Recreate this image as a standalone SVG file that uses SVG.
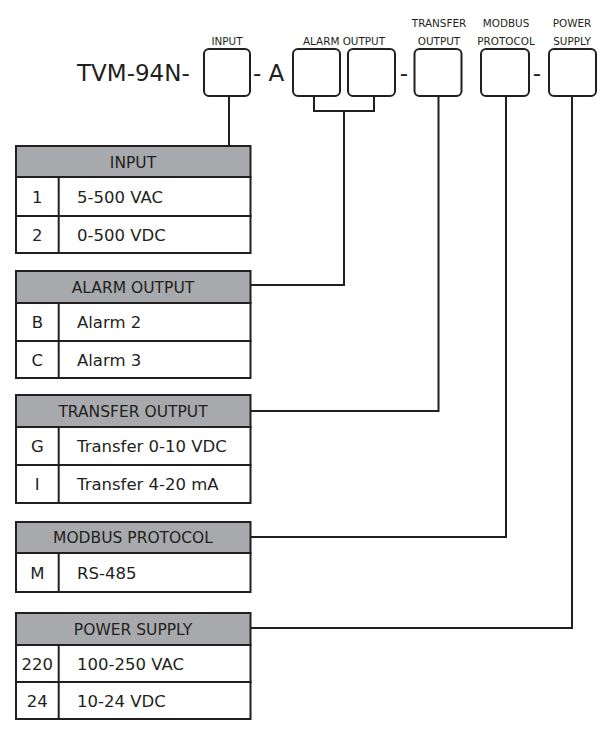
<svg xmlns="http://www.w3.org/2000/svg" width="605" height="731" viewBox="0 0 605 731">
<style>
text{font-family:"DejaVu Sans","Liberation Sans",sans-serif;fill:#231f20}
.title{font-size:23px}
.lbl{font-size:10.4px;text-anchor:middle}
.hd{font-size:15.5px;text-anchor:middle}
.cell{font-size:16.5px}
.code{font-size:16.5px;text-anchor:middle}
.box{fill:#fff;stroke:#231f20;stroke-width:2}
.head{fill:#a7a9ac;stroke:#231f20;stroke-width:2}
.row{fill:#fff;stroke:#231f20;stroke-width:2}
.ln{fill:none;stroke:#231f20;stroke-width:2}
</style>
<rect width="605" height="731" fill="#fff"/>
<g id="model">
<text class="title" x="77" y="81">TVM-94N-</text>
<text class="title" x="253" y="81">- A</text>
<text class="title" x="404" y="81" text-anchor="middle">-</text>
<text class="title" x="537" y="81" text-anchor="middle">-</text>
</g>
<g id="slot-input">
<rect class="box" x="204" y="49" width="46" height="47" rx="5"/>
<text class="lbl" x="227" y="45">INPUT</text>
</g>
<g id="slot-alarm">
<rect class="box" x="293" y="49" width="47" height="47" rx="5"/>
<rect class="box" x="348" y="49" width="47" height="47" rx="5"/>
<text class="lbl" x="344" y="45">ALARM OUTPUT</text>
</g>
<g id="slot-transfer">
<rect class="box" x="414.5" y="49" width="47" height="47" rx="5"/>
<text class="lbl" x="439" y="26.5">TRANSFER</text>
<text class="lbl" x="439" y="45">OUTPUT</text>
</g>
<g id="slot-modbus">
<rect class="box" x="481" y="49" width="48" height="47" rx="5"/>
<text class="lbl" x="506" y="26.5">MODBUS</text>
<text class="lbl" x="506" y="45">PROTOCOL</text>
</g>
<g id="slot-power">
<rect class="box" x="549" y="49" width="47" height="47" rx="5"/>
<text class="lbl" x="572" y="26.5">POWER</text>
<text class="lbl" x="572" y="45">SUPPLY</text>
</g>
<g id="connectors">
<path class="ln" d="M229 96V146"/>
<path class="ln" d="M314 96V111H374V96M344 111V285H250"/>
<path class="ln" d="M438.5 96V411H250"/>
<path class="ln" d="M506 96V537H250"/>
<path class="ln" d="M572 96V628H250"/>
</g>
<g id="table-input">
<rect class="head" x="16" y="146" width="234.5" height="31"/>
<rect class="row" x="16" y="177" width="234.5" height="39"/>
<rect class="row" x="16" y="216" width="234.5" height="37"/>
<path class="ln" d="M58.7 177V253"/>
<text class="hd" x="133" y="167.5">INPUT</text>
<text class="code" x="37.3" y="202.5">1</text>
<text class="cell" x="77" y="202.5">5-500 VAC</text>
<text class="code" x="37.3" y="240.5">2</text>
<text class="cell" x="77" y="240.5">0-500 VDC</text>
</g>
<g id="table-alarm">
<rect class="head" x="16" y="271" width="234.5" height="32"/>
<rect class="row" x="16" y="303" width="234.5" height="38"/>
<rect class="row" x="16" y="341" width="234.5" height="37"/>
<path class="ln" d="M58.7 303V378"/>
<text class="hd" x="133" y="292.5">ALARM OUTPUT</text>
<text class="code" x="37.3" y="328">B</text>
<text class="cell" x="77" y="328">Alarm 2</text>
<text class="code" x="37.3" y="365.5">C</text>
<text class="cell" x="77" y="365.5">Alarm 3</text>
</g>
<g id="table-transfer">
<rect class="head" x="16" y="395" width="234.5" height="32"/>
<rect class="row" x="16" y="427" width="234.5" height="38"/>
<rect class="row" x="16" y="465" width="234.5" height="38"/>
<path class="ln" d="M58.7 427V503"/>
<text class="hd" x="133" y="416.5">TRANSFER OUTPUT</text>
<text class="code" x="37.3" y="452">G</text>
<text class="cell" x="77" y="452">Transfer 0-10 VDC</text>
<text class="code" x="37.3" y="490">I</text>
<text class="cell" x="77" y="490">Transfer 4-20 mA</text>
</g>
<g id="table-modbus">
<rect class="head" x="16" y="522" width="234.5" height="31"/>
<rect class="row" x="16" y="553" width="234.5" height="39"/>
<path class="ln" d="M58.7 553V592"/>
<text class="hd" x="133" y="543">MODBUS PROTOCOL</text>
<text class="code" x="37.3" y="578.5">M</text>
<text class="cell" x="77" y="578.5">RS-485</text>
</g>
<g id="table-power">
<rect class="head" x="16" y="613" width="234.5" height="32"/>
<rect class="row" x="16" y="645" width="234.5" height="37"/>
<rect class="row" x="16" y="682" width="234.5" height="37"/>
<path class="ln" d="M58.7 645V719"/>
<text class="hd" x="133" y="634.5">POWER SUPPLY</text>
<text class="code" x="37.3" y="669.5">220</text>
<text class="cell" x="77" y="669.5">100-250 VAC</text>
<text class="code" x="37.3" y="706.5">24</text>
<text class="cell" x="77" y="706.5">10-24 VDC</text>
</g>
</svg>
